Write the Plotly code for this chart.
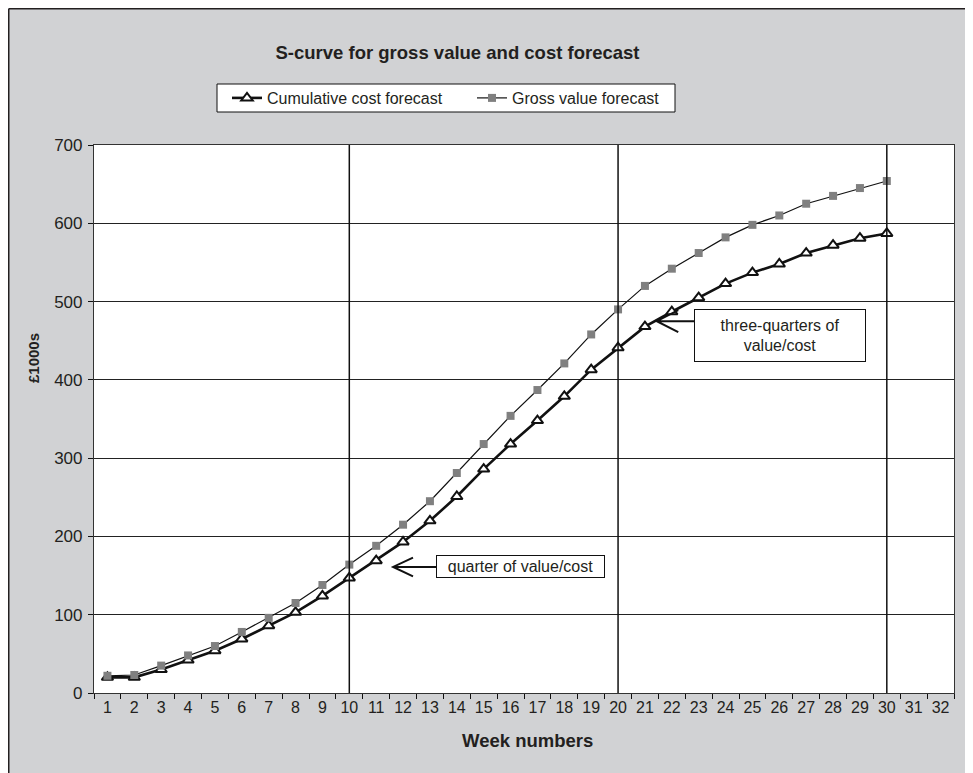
import plotly.graph_objects as go

# ---- data ----
weeks = list(range(1, 31))
cost_forecast = [20, 20, 30, 42, 54, 69, 86, 103, 124, 147,
                 169, 193, 220, 251, 286, 318, 348, 379, 413, 441,
                 468, 487, 505, 523, 537, 548, 562, 572, 581, 587]
gross_value = [22, 23, 35, 48, 60, 78, 96, 115, 138, 164,
               188, 215, 245, 281, 318, 354, 387, 421, 458, 490,
               520, 542, 562, 582, 598, 610, 625, 635, 645, 654]
axis_weeks = list(range(1, 33))
milestone_weeks = [10, 20, 30]
y_ticks = [0, 100, 200, 300, 400, 500, 600, 700]

FONT = "Liberation Sans, Arial, Helvetica, sans-serif"
TXT = "#231f20"
GREY_BG = "#d1d2d4"

W, H = 965, 765
L, R, T, B = 86, 19, 137, 80
PW, PH = W - L - R, H - T - B


def px(xp):
    return (xp - L) / PW


def py(yp):
    return (H - B - yp) / PH


fig = go.Figure()

fig.add_trace(go.Scatter(
    x=weeks, y=cost_forecast, name="Cumulative cost forecast",
    mode="lines+markers",
    line=dict(color="#111111", width=2.6),
    marker=dict(symbol="triangle-up", size=10, color="white",
                line=dict(color="#111111", width=2)),
))
fig.add_trace(go.Scatter(
    x=weeks, y=gross_value, name="Gross value forecast",
    mode="lines+markers",
    line=dict(color="#111111", width=1.2),
    marker=dict(symbol="square", size=8, color="#808080",
                line=dict(width=0)),
))

# milestone vertical lines with dots on top
for w in milestone_weeks:
    fig.add_shape(type="line", xref="x", yref="y", x0=w, x1=w, y0=0, y1=700,
                  line=dict(color="#111111", width=1.5), layer="above")
fig.add_trace(go.Scatter(
    x=milestone_weeks, y=[706] * len(milestone_weeks), mode="markers",
    marker=dict(symbol="circle", size=9, color="#111111"),
    showlegend=False, cliponaxis=False, hoverinfo="skip",
))

# annotation boxes and open arrows
fig.add_annotation(x=16.37, y=161, xref="x", yref="y", showarrow=False,
                   text="quarter of value/cost", font=dict(size=16, color=TXT, family=FONT),
                   bgcolor="white", bordercolor="#111111", borderwidth=1, borderpad=2,
                   width=163, height=17)
fig.add_shape(type="path", xref="x", yref="y",
              path="M 12.37,173 L 11.63,161 L 12.37,149 M 11.63,161 L 13.23,161",
              line=dict(color="#111111", width=2), layer="above")

fig.add_annotation(x=26.03, y=457, xref="x", yref="y", showarrow=False,
                   text="three-quarters of<br>value/cost",
                   font=dict(size=16, color=TXT, family=FONT),
                   bgcolor="white", bordercolor="#111111", borderwidth=1, borderpad=2,
                   width=166, height=47)
fig.add_shape(type="path", xref="x", yref="y",
              path="M 22.24,489 L 21.44,475 L 22.24,461 M 21.44,475 L 22.83,475",
              line=dict(color="#111111", width=2), layer="above")

# axis titles
fig.add_annotation(x=px(25), y=py(350), xref="paper", yref="paper", showarrow=False,
                   text="<b>£1000s</b>", textangle=-90, xanchor="center", yanchor="middle",
                   font=dict(size=15, color=TXT, family=FONT))
fig.add_annotation(x=px(519), y=py(733), xref="paper", yref="paper", showarrow=False,
                   text="<b>Week numbers</b>", xanchor="center", yanchor="middle",
                   font=dict(size=18.5, color=TXT, family=FONT))

# legend box
fig.add_shape(type="rect", xref="paper", yref="paper",
              x0=px(209), x1=px(667), y0=py(104), y1=py(76),
              fillcolor="white", line=dict(color="#111111", width=1), layer="below")

# outer frame border lines (top, left)
fig.add_shape(type="line", xref="paper", yref="paper",
              x0=px(0.75), x1=px(0.75), y0=py(H + 5), y1=py(0.75),
              line=dict(color="#231f20", width=1.5), layer="above")
fig.add_shape(type="line", xref="paper", yref="paper",
              x0=px(0.75), x1=px(W + 5), y0=py(0.75), y1=py(0.75),
              line=dict(color="#231f20", width=1.5), layer="above")

fig.update_layout(
    width=W, height=H,
    margin=dict(l=L, r=R, t=T, b=B),
    paper_bgcolor=GREY_BG, plot_bgcolor="white",
    font=dict(family=FONT, size=16, color=TXT),
    title=dict(text="<b>S-curve for gross value and cost forecast</b>",
               x=px(449.5), xref="paper", xanchor="center",
               y=1 - 45 / H, yref="container", yanchor="middle",
               font=dict(size=18.5, color=TXT, family=FONT)),
    legend=dict(orientation="h", x=px(219), y=py(90),
                xanchor="left", yanchor="middle", bgcolor="rgba(0,0,0,0)",
                borderwidth=0,
                font=dict(size=16, color=TXT, family=FONT),
                entrywidth=200, entrywidthmode="pixels"),
    showlegend=True,
)

fig.update_xaxes(
    range=[0.5, 32.5], tickmode="array", tickvals=axis_weeks,
    ticktext=[str(w) for w in axis_weeks],
    ticks="",
    showgrid=False, zeroline=False,
    showline=True, linecolor="#333333", linewidth=1.2, mirror=True,
    minor=dict(tickmode="array", tickvals=[w - 0.5 for w in axis_weeks] + [axis_weeks[-1] + 0.5],
               ticks="outside", ticklen=5, tickcolor="#111111", showgrid=False),
    tickfont=dict(size=16, color=TXT, family=FONT),
)
fig.update_yaxes(
    range=[0, 700], tickmode="array", tickvals=y_ticks,
    ticks="outside", ticklen=5, tickcolor="#111111", ticklabelstandoff=2,
    showgrid=True, gridcolor="#222222", gridwidth=1, zeroline=False,
    showline=True, linecolor="#333333", linewidth=1.2, mirror=True,
    tickfont=dict(size=17, color=TXT, family=FONT),
)

fig.write_html("out.html")
